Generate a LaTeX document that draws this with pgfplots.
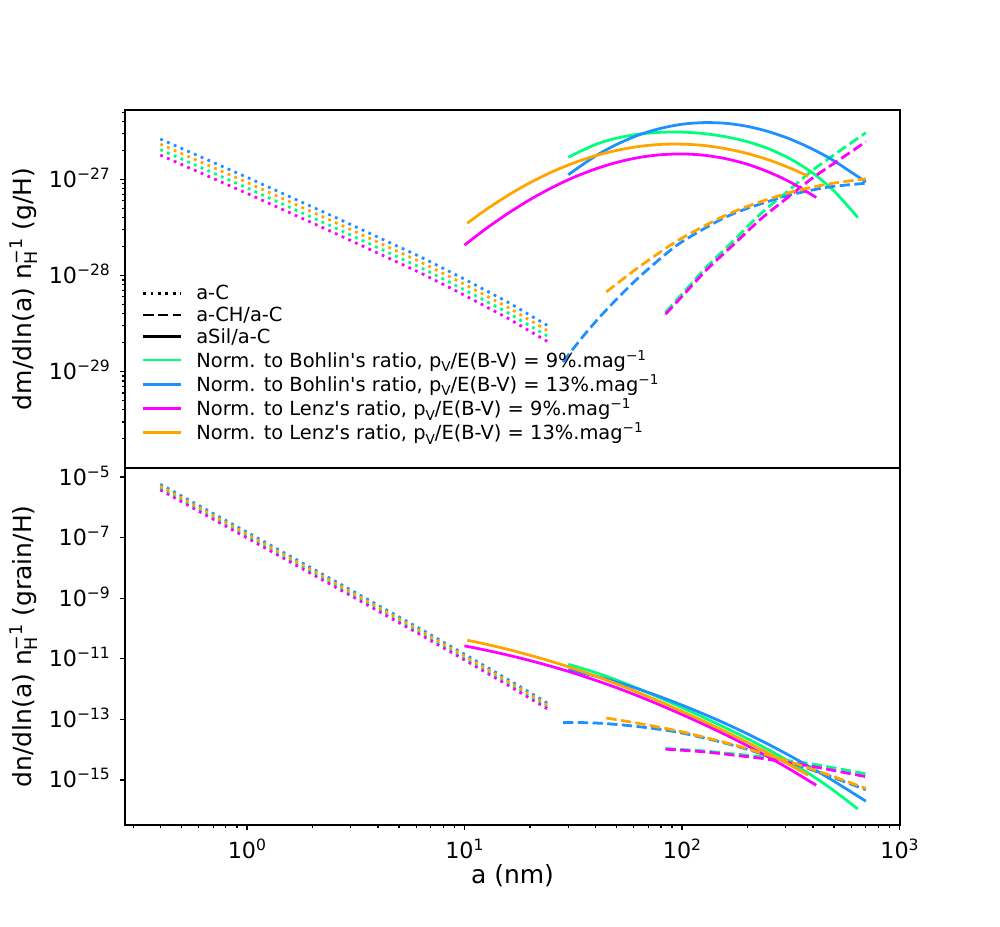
\documentclass[border=0pt]{standalone}
\usepackage{graphicx}
\usepackage{fontspec}
\setmainfont{DejaVu Sans}
\usepackage{pgfplots}
\pgfplotsset{compat=1.18}
\definecolor{colG}{RGB}{0,255,127}
\definecolor{colB}{RGB}{30,144,255}
\definecolor{colM}{RGB}{255,0,255}
\definecolor{colO}{RGB}{255,165,0}
\newcommand{\sups}[1]{\raisebox{0.36em}{\scalebox{0.7}{#1}}}
\newcommand{\subs}[1]{\raisebox{-0.22em}{\scalebox{0.7}{#1}}}
\newcommand{\tp}[1]{10\sups{#1}}
\pgfplotsset{
  dotA/.style={line width=2bp, dash pattern=on 2bp off 3.3bp, line cap=butt, forget plot},
  dashA/.style={line width=2bp, dash pattern=on 7.4bp off 3.2bp, line cap=butt, smooth, forget plot},
  solA/.style={line width=2bp, solid, smooth, forget plot},
}
\begin{document}
\begin{tikzpicture}
\path[use as bounding box] (0,0) rectangle (10in,9.27in);
% ---------------- top panel ----------------
\begin{axis}[
  scale only axis, width=7.75in,
  xmode=log, ymode=log, xmin=0.2752, xmax=1005,
  tick align=outside, tick pos=left,
  axis line style={line width=1.6bp},
  major tick length=3.5bp, minor tick length=2bp,
  every tick/.style={black, line width=0.9bp},
  tick label style={font=\fontsize{16bp}{19bp}\selectfont, inner sep=0pt},
  yticklabel style={anchor=base east, xshift=-0.1in, yshift=-0.08in},
  at={(1.25in,4.593in)}, anchor=south west, height=3.577in,
  ymin=1e-30, ymax=5.27e-27,
  xtick=\empty, xminorticks=false,
  ytick={1e-29,1e-28,1e-27}, yticklabels={\tp{−29},\tp{−28},\tp{−27}},
  minor ytick={2e-30,3e-30,4e-30,5e-30,6e-30,7e-30,8e-30,9e-30,2e-29,3e-29,4e-29,5e-29,6e-29,7e-29,8e-29,9e-29,2e-28,3e-28,4e-28,5e-28,6e-28,7e-28,8e-28,9e-28,2e-27,3e-27,4e-27,5e-27},
  ylabel={dm/dln(a) n\rlap{\subs{H}}\sups{−1} (g/H)},
  every axis y label/.style={at={(axis description cs:-0.1206,0.5)}, rotate=90, anchor=base, font=\fontsize{18bp}{21bp}\selectfont},
  legend style={at={(0.0215,0.5116)}, anchor=north west, draw=none, fill=none, inner sep=0pt,
    font=\fontsize{14bp}{16bp}\selectfont, column sep=0.14in, row sep=0.052in,
    nodes={inner sep=0pt}},
  legend cell align=left,
  legend image code/.code={\draw[#1, line width=2bp] (0in,0in) -- (0.376in,0in);},
]
\addlegendimage{black, dash pattern=on 2bp off 3.3bp}
\addlegendentry{a-C}
\addlegendimage{black, dash pattern=on 7.4bp off 3.2bp}
\addlegendentry{a-CH/a-C}
\addlegendimage{black, solid}
\addlegendentry{aSil/a-C}
\addlegendimage{colG, solid}
\addlegendentry{Norm. to Bohlin\textquotesingle s ratio, p\subs{V}/E(B-V) = 9\%.mag\sups{−1}}
\addlegendimage{colB, solid}
\addlegendentry{Norm. to Bohlin\textquotesingle s ratio, p\subs{V}/E(B-V) = 13\%.mag\sups{−1}}
\addlegendimage{colM, solid}
\addlegendentry{Norm. to Lenz\textquotesingle s ratio, p\subs{V}/E(B-V) = 9\%.mag\sups{−1}}
\addlegendimage{colO, solid}
\addlegendentry{Norm. to Lenz\textquotesingle s ratio, p\subs{V}/E(B-V) = 13\%.mag\sups{−1}}
% green
\addplot[dotA, colG] coordinates {(0.4,2.041e-27) (1,8.164e-28) (2.5,3.190e-28) (6.31,1.207e-28) (10,7.110e-29) (15.85,4.091e-29) (24,2.354e-29)};
\addplot[dashA, colG] coordinates {(84,4.140e-29) (100,6.412e-29) (130,1.233e-28) (170,2.228e-28) (230,4.385e-28) (300,7.244e-28) (400,1.253e-27) (530,1.977e-27) (700,3.055e-27)};
\addplot[solA, colG] coordinates {(30,1.702e-27) (39.81,2.296e-27) (50.12,2.685e-27) (63.1,2.951e-27) (79.43,3.090e-27) (100,3.105e-27) (125.9,2.999e-27) (158.5,2.780e-27) (199.5,2.472e-27) (251.2,2.075e-27) (316.2,1.626e-27) (398.1,1.169e-27) (501.2,7.534e-28) (643,4.009e-28)};
% blue
\addplot[dotA, colB] coordinates {(0.4,2.630e-27) (1,1.052e-27) (2.5,4.111e-28) (6.31,1.556e-28) (10,9.162e-29) (15.85,5.272e-29) (24,3.034e-29)};
\addplot[dashA, colB] coordinates {(28.4,1.259e-29) (35,2.312e-29) (44,4.178e-29) (60,8.531e-29) (80,1.517e-28) (100,2.244e-28) (150,3.802e-28) (200,5.000e-28) (300,6.699e-28) (400,7.780e-28) (500,8.472e-28) (700,9.120e-28)};
\addplot[solA, colB] coordinates {(30,1.119e-27) (39.81,1.738e-27) (50.12,2.312e-27) (63.1,2.891e-27) (79.43,3.388e-27) (100,3.750e-27) (125.9,3.899e-27) (158.5,3.837e-27) (199.5,3.565e-27) (251.2,3.133e-27) (316.2,2.612e-27) (398.1,2.065e-27) (501.2,1.552e-27) (700,9.397e-28)};
% magenta
\addplot[dotA, colM] coordinates {(0.4,1.791e-27) (1,7.164e-28) (2.5,2.80e-28) (6.31,1.060e-28) (10,6.239e-29) (15.85,3.590e-29) (24,2.066e-29)};
\addplot[dashA, colM] coordinates {(84,3.954e-29) (100,6.053e-29) (130,1.151e-28) (170,2.032e-28) (230,3.864e-28) (300,6.237e-28) (400,1.042e-27) (530,1.607e-27) (700,2.466e-27)};
\addplot[solA, colM] coordinates {(10,2.070e-28) (12.59,3.083e-28) (15.85,4.426e-28) (19.95,6.138e-28) (25.12,8.166e-28) (31.62,1.045e-27) (39.81,1.279e-27) (50.12,1.503e-27) (63.1,1.687e-27) (79.43,1.803e-27) (100,1.841e-27) (125.9,1.786e-27) (158.5,1.644e-27) (199.5,1.439e-27) (251.2,1.189e-27) (316.2,9.311e-28) (414,6.486e-28)};
% orange
\addplot[dotA, colO] coordinates {(0.4,2.328e-27) (1,9.31e-28) (2.5,3.638e-28) (6.31,1.377e-28) (10,8.108e-29) (15.85,4.666e-29) (24,2.685e-29)};
\addplot[dashA, colO] coordinates {(44.9,6.745e-29) (60,1.119e-28) (80,1.774e-28) (100,2.455e-28) (150,3.990e-28) (200,5.248e-28) (300,7.112e-28) (400,8.337e-28) (500,9.162e-28) (700,1.014e-27)};
\addplot[solA, colO] coordinates {(10.3,3.499e-28) (12.59,4.864e-28) (15.85,6.823e-28) (19.95,9.204e-28) (25.12,1.191e-27) (31.62,1.476e-27) (39.81,1.758e-27) (50.12,2.004e-27) (63.1,2.198e-27) (79.43,2.312e-27) (100,2.328e-27) (125.9,2.254e-27) (158.5,2.089e-27) (199.5,1.862e-27) (251.2,1.592e-27) (316.2,1.303e-27) (380,1.079e-27)};
\end{axis}
% ---------------- bottom panel ----------------
\begin{axis}[
  scale only axis, width=7.75in,
  xmode=log, ymode=log, xmin=0.2752, xmax=1005,
  tick align=outside, tick pos=left,
  axis line style={line width=1.6bp},
  major tick length=3.5bp, minor tick length=2bp,
  every tick/.style={black, line width=0.9bp},
  tick label style={font=\fontsize{16bp}{19bp}\selectfont, inner sep=0pt},
  yticklabel style={anchor=base east, xshift=-0.1in, yshift=-0.08in},
  at={(1.25in,1.02in)}, anchor=south west, height=3.573in,
  ymin=3.24e-17, ymax=2.04e-5,
  xtick={1,10,100,1000}, xticklabels={\tp{0},\tp{1},\tp{2},\tp{3}},
  minor xtick={0.3,0.4,0.5,0.6,0.7,0.8,0.9,2,3,4,5,6,7,8,9,20,30,40,50,60,70,80,90,200,300,400,500,600,700,800,900},
  xticklabel style={anchor=base, yshift=-0.286in},
  ytick={1e-15,1e-13,1e-11,1e-9,1e-7,1e-5}, yticklabels={\tp{−15},\tp{−13},\tp{−11},\tp{−9},\tp{−7},\tp{−5}},
  yminorticks=false,
  ylabel={dn/dln(a) n\rlap{\subs{H}}\sups{−1} (grain/H)},
  every axis y label/.style={at={(axis description cs:-0.1206,0.5)}, rotate=90, anchor=base, font=\fontsize{18bp}{21bp}\selectfont},
  xlabel={a (nm)},
  every axis x label/.style={at={(axis description cs:0.5,-0.165)}, anchor=base, font=\fontsize{18bp}{21bp}\selectfont},
]
% green
\addplot[dotA, colG] coordinates {(0.4,4.356e-6) (1,1.143e-7) (2.5,2.931e-9) (6.31,7.097e-11) (10,1.064e-11) (15.85,1.556e-12) (24,2.612e-13)};
\addplot[dashA, colG] coordinates {(84,1.084e-14) (100,1.009e-14) (130,8.892e-15) (170,7.311e-15) (230,5.888e-15) (300,4.457e-15) (400,3.327e-15) (530,2.312e-15) (700,1.585e-15)};
\addplot[solA, colG] coordinates {(30,6.607e-12) (39.81,3.556e-12) (50.12,1.968e-12) (63.1,1.023e-12) (79.43,5.070e-13) (100,2.438e-13) (125.9,1.148e-13) (158.5,5.260e-14) (199.5,2.317e-14) (251.2,9.661e-15) (316.2,3.767e-15) (398.1,1.349e-15) (501.2,4.335e-16) (643,1.094e-16)};
% blue
\addplot[dotA, colB] coordinates {(0.4,5.808e-6) (1,1.524e-7) (2.5,3.908e-9) (6.31,9.462e-11) (10,1.419e-11) (15.85,2.075e-12) (24,3.483e-13)};
\addplot[dashA, colB] coordinates {(28.4,7.780e-14) (35,7.798e-14) (44,7.278e-14) (60,5.984e-14) (80,4.592e-14) (100,3.532e-14) (150,1.799e-14) (200,1.014e-14) (300,4.121e-15) (400,2.065e-15) (500,1.169e-15) (700,4.732e-16)};
\addplot[solA, colB] coordinates {(30,4.345e-12) (39.81,2.692e-12) (50.12,1.694e-12) (63.1,1.002e-12) (79.43,5.559e-13) (100,2.944e-13) (125.9,1.493e-13) (158.5,7.261e-14) (199.5,3.342e-14) (251.2,1.459e-14) (316.2,6.053e-15) (398.1,2.382e-15) (501.2,8.933e-16) (700,1.986e-16)};
% magenta
\addplot[dotA, colM] coordinates {(0.4,3.752e-6) (1,9.845e-8) (2.5,2.525e-9) (6.31,6.112e-11) (10,9.167e-12) (15.85,1.340e-12) (24,2.250e-13)};
\addplot[dashA, colM] coordinates {(84,1.035e-14) (100,9.528e-15) (130,8.299e-15) (170,6.668e-15) (230,5.188e-15) (300,3.837e-15) (400,2.767e-15) (530,1.879e-15) (700,1.279e-15)};
\addplot[solA, colM] coordinates {(10,2.667e-11) (12.59,1.914e-11) (15.85,1.321e-11) (19.95,8.770e-12) (25.12,5.585e-12) (31.62,3.420e-12) (39.81,1.982e-12) (50.12,1.102e-12) (63.1,5.848e-13) (79.43,2.958e-13) (100,1.445e-13) (125.9,6.839e-14) (158.5,3.112e-14) (199.5,1.349e-14) (251.2,5.534e-15) (316.2,2.158e-15) (414,6.653e-16)};
% orange
\addplot[dotA, colO] coordinates {(0.4,5.059e-6) (1,1.327e-7) (2.5,3.404e-9) (6.31,8.241e-11) (10,1.236e-11) (15.85,1.807e-12) (24,3.034e-13)};
\addplot[dashA, colO] coordinates {(44.9,1.104e-13) (60,7.852e-14) (80,5.370e-14) (100,3.864e-14) (150,1.888e-14) (200,1.064e-14) (300,4.375e-15) (400,2.213e-15) (500,1.265e-15) (700,5.260e-16)};
\addplot[solA, colO] coordinates {(10.3,4.102e-11) (12.59,3.020e-11) (15.85,2.037e-11) (19.95,1.315e-11) (25.12,8.147e-12) (31.62,4.831e-12) (39.81,2.723e-12) (50.12,1.469e-12) (63.1,7.621e-13) (79.43,3.793e-13) (100,1.828e-13) (125.9,8.630e-14) (158.5,3.954e-14) (199.5,1.746e-14) (251.2,7.413e-15) (316.2,3.020e-15) (380,1.429e-15)};
\end{axis}
\end{tikzpicture}
\end{document}
